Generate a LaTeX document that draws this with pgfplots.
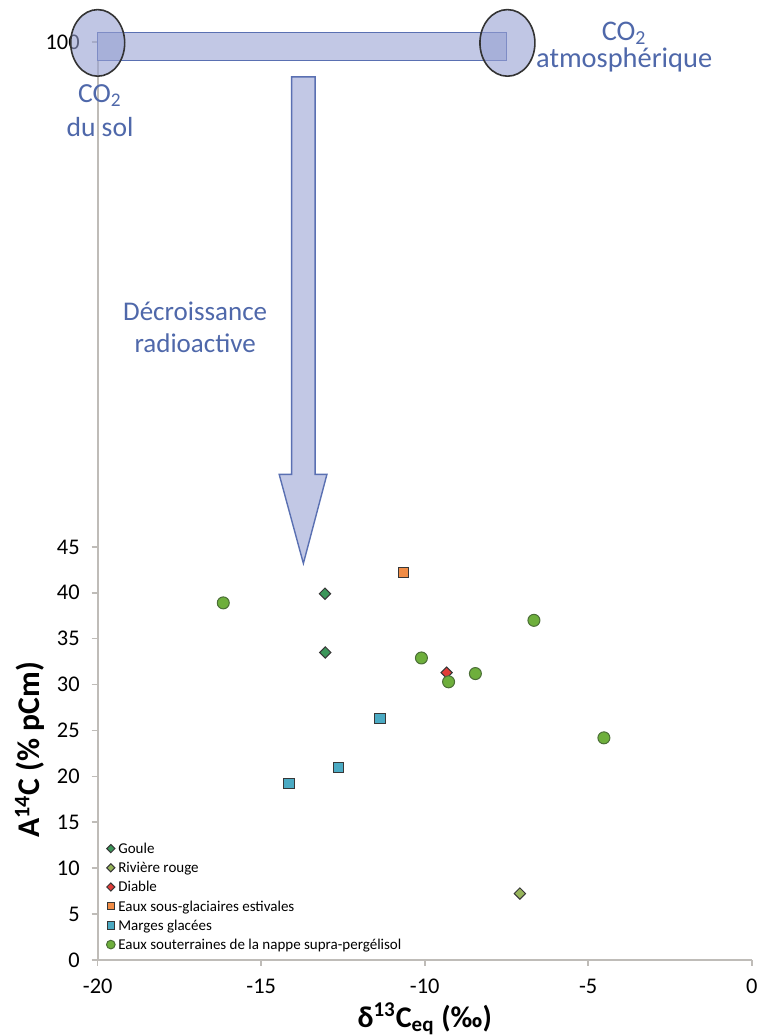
\documentclass[border=0pt]{standalone}
\usepackage{fontspec}
\setmainfont{Carlito}
\usepackage{pgfplots}
\pgfplotsset{compat=1.18}
\definecolor{axgray}{RGB}{191,188,184}
\definecolor{txtblue}{RGB}{79,104,170}
\definecolor{barfill}{RGB}{194,200,229}
\definecolor{baredge}{RGB}{90,112,178}
\definecolor{ellfill}{RGB}{150,160,210}
\definecolor{mkedge}{RGB}{55,55,55}
\definecolor{cGoule}{RGB}{60,150,90}
\definecolor{cRiviere}{RGB}{150,180,90}
\definecolor{cDiable}{RGB}{225,60,55}
\definecolor{cSousGl}{RGB}{240,140,70}
\definecolor{cMarges}{RGB}{75,170,195}
\definecolor{cSout}{RGB}{110,175,60}
\definecolor{cSoutEdge}{RGB}{75,110,55}
\begin{document}
\begin{tikzpicture}
\useasboundingbox (-48.85pt,-38pt) rectangle (330.15pt,480pt);
\begin{axis}[
  scale only axis, width=327pt, height=459pt,
  xmin=-20, xmax=0, ymin=0, ymax=100,
  axis x line*=bottom, axis y line*=left,
  axis line style={draw=axgray, line width=0.9pt, -},
  xtick={-20,-15,...,0}, ytick={0,5,...,45,100},
  tick align=outside, major tick length=3pt,
  tick style={draw=axgray, line width=0.8pt},
  tick label style={font=\fontsize{11.2}{13}\selectfont},
  xticklabel style={yshift=-3pt},
  yticklabel style={xshift=-2.5pt},
  /pgf/number format/assume math mode=true,
  clip=false,
  xlabel={δ\textsuperscript{13}C\textsubscript{eq} (‰)},
  ylabel={A\textsuperscript{14}C (\% pCm)},
  label style={font=\bfseries\fontsize{15}{18}\selectfont},
  xlabel style={at={(rel axis cs:0.5,0)}, anchor=base, yshift=-33.5pt},
  ylabel style={at={(rel axis cs:-0.1035,0.2288)}, anchor=center, font=\bfseries\fontsize{15.8}{18}\selectfont},
  legend style={at={(rel axis cs:0,0)}, anchor=south west, xshift=4.4pt, yshift=2.6pt,
    draw=none, fill=none, inner sep=0pt, outer sep=0pt,
    font=\fontsize{7.5}{9}\selectfont, row sep=0pt, column sep=0.6pt,
    nodes={inner sep=1pt, text height=6.0pt, text depth=1.6pt}},
  legend cell align=left,
  legend image code/.code={\draw[#1, /tikz/every mark/.append style={scale=0.72}] plot coordinates {(0pt,0.3pt)};},
]
\addplot[only marks, mark=square*, mark size=2pt, mark options={rotate=45, fill=cGoule, draw=mkedge, line width=0.5pt}]
  coordinates {(-13.05,39.9) (-13.04,33.5)};
\addlegendentry{Goule}
\addplot[only marks, mark=square*, mark size=2pt, mark options={rotate=45, fill=cRiviere, draw=mkedge, line width=0.5pt}]
  coordinates {(-7.09,7.24)};
\addlegendentry{Rivière rouge}
\addplot[only marks, mark=square*, mark size=2pt, mark options={rotate=45, fill=cDiable, draw=mkedge, line width=0.5pt}]
  coordinates {(-9.33,31.3)};
\addlegendentry{Diable}
\addplot[only marks, mark=square*, mark size=2.6pt, mark options={fill=cSousGl, draw=mkedge, line width=0.5pt}]
  coordinates {(-10.65,42.2)};
\addlegendentry{Eaux sous-glaciaires estivales}
\addplot[only marks, mark=square*, mark size=2.6pt, mark options={fill=cMarges, draw=mkedge, line width=0.5pt}]
  coordinates {(-14.15,19.2) (-12.63,21.0) (-11.37,26.3)};
\addlegendentry{Marges glacées}
\addplot[only marks, mark=*, mark size=3pt, mark options={fill=cSout, draw=cSoutEdge, line width=0.5pt}]
  coordinates {(-16.16,38.9) (-6.66,37.0) (-10.10,32.9) (-9.27,30.3) (-8.45,31.2) (-4.52,24.2)};
\addlegendentry{Eaux souterraines de la nappe supra-pergélisol}
% annotations
\draw[fill=barfill, draw=baredge, line width=0.7pt] (axis cs:-20,98.0) rectangle (axis cs:-7.49,101.05);
\draw[fill=barfill, draw=baredge, line width=0.7pt]
  (axis cs:-14.07,96.2) -- (axis cs:-13.35,96.2) -- (axis cs:-13.35,52.9) -- (axis cs:-12.99,52.9)
  -- (axis cs:-13.71,43.2) -- (axis cs:-14.45,52.9) -- (axis cs:-14.07,52.9) -- cycle;
\draw[fill=ellfill, fill opacity=0.6, draw=black!80, line width=0.8pt] (axis cs:-20,99.9) ellipse [x radius=13.5pt, y radius=16.65pt];
\draw[fill=ellfill, fill opacity=0.6, draw=black!80, line width=0.8pt] (axis cs:-7.47,99.9) ellipse [x radius=13.75pt, y radius=16.65pt];
\node[text=txtblue, font=\fontsize{13.8}{16}\selectfont, anchor=base] at (axis cs:-19.93,93.4) {CO\textsubscript{2}};
\node[text=txtblue, font=\fontsize{13.8}{16}\selectfont, anchor=base] at (axis cs:-19.93,89.7) {du sol};
\node[text=txtblue, font=\fontsize{14.2}{16}\selectfont, anchor=base] at (axis cs:-3.9,100.2) {CO\textsubscript{2}};
\node[text=txtblue, font=\fontsize{14.2}{16}\selectfont, anchor=base] at (axis cs:-3.9,97.2) {atmosphérique};
\node[text=txtblue, font=\fontsize{13.5}{16}\selectfont, anchor=base] at (axis cs:-17.02,69.7) {Décroissance};
\node[text=txtblue, font=\fontsize{13.5}{16}\selectfont, anchor=base] at (axis cs:-17.02,66.2) {radioactive};
\end{axis}
\end{tikzpicture}
\end{document}
